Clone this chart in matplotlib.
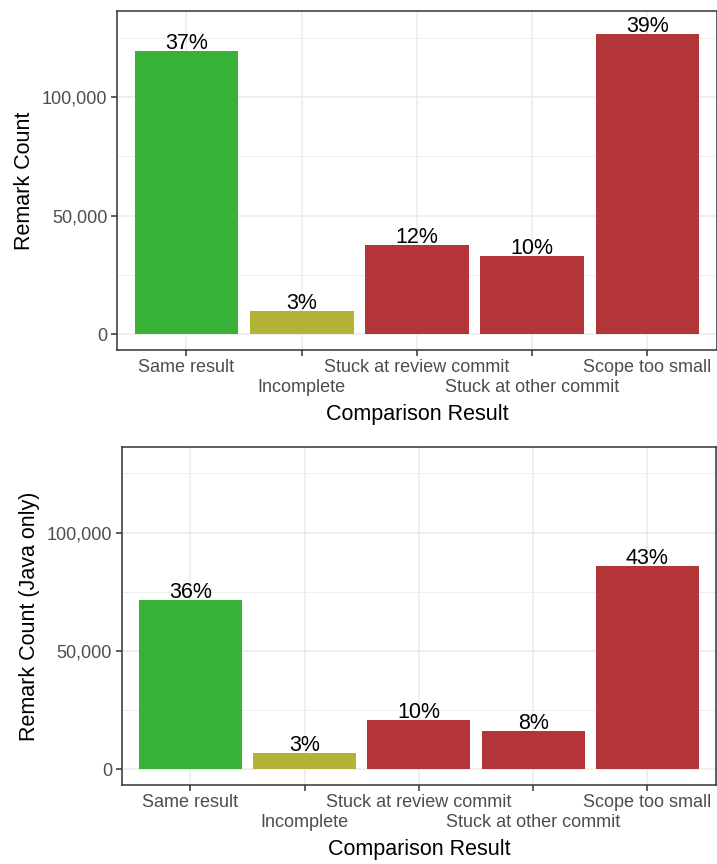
import matplotlib
matplotlib.use("Agg")
import matplotlib.pyplot as plt
from matplotlib.ticker import FuncFormatter, FixedLocator

plt.rcParams['font.family'] = ['Liberation Sans', 'DejaVu Sans']

categories = ["Same result", "Incomplete", "Stuck at review commit",
              "Stuck at other commit", "Scope too small"]
counts_all = [119500, 9830, 37680, 33040, 126500]
counts_java = [71600, 6900, 20800, 16000, 86000]
bar_colors = ["#37B237", "#B3B335", "#B33538", "#B33538", "#B33538"]

ylabels = ["Remark Count", "Remark Count (Java only)"]
xlabel = "Comparison Result"

fig = plt.figure(figsize=(7.17, 8.64), dpi=100)
W, H = 717, 864
boxes = [(117.3, 11, 716.5, 350), (121.7, 446.7, 716.0, 785)]

grid_col = "#EBEBEB"
frame_col = "#333333"
tick_col = "#4D4D4D"

for counts, ylab, (l, t, r, b) in zip([counts_all, counts_java], ylabels, boxes):
    ax = fig.add_axes([l / W, 1 - b / H, (r - l) / W, (b - t) / H])
    x = list(range(1, len(categories) + 1))
    ax.bar(x, counts, width=0.9, color=bar_colors, zorder=3)
    total = sum(counts)
    for xi, v in zip(x, counts):
        ax.annotate(f"{round(100 * v / total):d}%", (xi, v), xytext=(0, 1.5),
                    textcoords="offset points", ha="center", va="baseline",
                    fontsize=15.5, color="black", zorder=4)
    ax.set_xlim(0.4, 5.6)
    ax.set_ylim(-6650, 136300)

    ax.yaxis.set_major_locator(FixedLocator([0, 50000, 100000]))
    ax.yaxis.set_minor_locator(FixedLocator([25000, 75000, 125000]))
    ax.yaxis.set_major_formatter(FuncFormatter(lambda v, p: f"{int(v):,}"))

    odd = [1, 3, 5]
    even = [2, 4]
    ax.xaxis.set_major_locator(FixedLocator(odd))
    ax.xaxis.set_minor_locator(FixedLocator(even))
    ax.set_xticklabels([categories[i - 1] for i in odd])
    ax.set_xticklabels([categories[i - 1] for i in even], minor=True)

    ax.tick_params(axis="x", which="major", length=4, width=1.1, color=frame_col,
                   labelsize=13, labelcolor=tick_col, pad=2.5)
    ax.tick_params(axis="x", which="minor", length=4, width=1.1, color=frame_col,
                   labelsize=13, labelcolor=tick_col, pad=17)
    ax.tick_params(axis="y", which="major", length=4, width=1.1, color=frame_col,
                   labelsize=13, labelcolor=tick_col, pad=3)
    ax.tick_params(axis="y", which="minor", length=0)

    ax.grid(True, axis="x", which="both", color=grid_col, lw=1.1, zorder=0)
    ax.grid(True, axis="y", which="major", color=grid_col, lw=1.1, zorder=0)
    ax.grid(True, axis="y", which="minor", color=grid_col, lw=0.6, zorder=0)
    ax.set_axisbelow(True)

    for s in ax.spines.values():
        s.set_color(frame_col)
        s.set_linewidth(1.1)

    ax.set_ylabel(ylab, fontsize=15.5, color="black", labelpad=5)
    ax.set_xlabel(xlabel, fontsize=15.5, color="black", labelpad=5.5)

fig.savefig("out.png", dpi=100, facecolor="white")
